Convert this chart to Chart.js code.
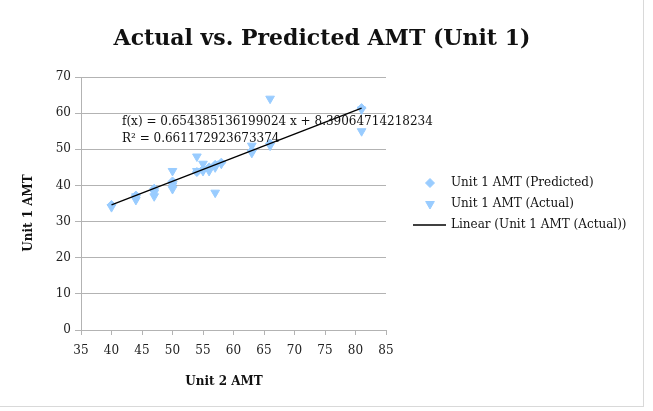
<!DOCTYPE html>
<html>
<head>
<meta charset="utf-8">
<script src="https://cdn.jsdelivr.net/npm/chart.js@4"></script>
<style>
    body { margin: 0; background: #fff; }
    #frame {
        width: 643px;
        height: 406px;
        border-right: 1px solid #d9d9d9;
        border-bottom: 1px solid #d9d9d9;
    }
</style>
</head>
<body>
<div id="frame"><canvas id="chart" width="643" height="406"></canvas></div>
<script>
const FONT = "'DejaVu Serif', serif";
const MARKER_COLOR = "#99ccff";

// Unit 2 AMT (x) vs Unit 1 AMT (y)
const actualX = [40, 44, 44, 47, 47, 50, 50, 50, 54, 54, 55, 55, 56, 57, 57, 58, 63, 63, 66, 66, 81, 81];
const actualY = [34, 36, 37, 37, 38, 44, 39, 40, 48, 44, 46, 44, 44, 38, 45, 46, 51, 49, 64, 51, 61, 55];

const predictedX = [40, 44, 47, 50, 54, 55, 56, 57, 58, 63, 66, 81];
const predictedY = [34.6, 37.2, 39.1, 41.1, 43.7, 44.4, 45.0, 45.7, 46.3, 49.6, 51.6, 61.4];

const trendX = [40, 81];
const trendY = [34.6, 61.4];

const xTicks = [35, 40, 45, 50, 55, 60, 65, 70, 75, 80, 85];
const yTicks = [0, 10, 20, 30, 40, 50, 60, 70];

const chartTitle = "Actual vs. Predicted AMT (Unit 1)";
const equationLines = [
    "f(x) = 0.654385136199024 x + 8.39064714218234",
    "R\u00B2 = 0.661172923673374",
];

function toPoints(xs, ys) {
    return xs.map((x, i) => ({ x: x, y: ys[i] }));
}

// draws the texts and legend that Chart.js can't place exactly
const extrasPlugin = {
    id: "extras",
    afterDraw(chart) {
        const ctx = chart.ctx;
        ctx.save();
        ctx.fillStyle = "#111";
        ctx.textBaseline = "middle";

        // chart title, centred on the whole frame
        ctx.font = "bold 22px " + FONT;
        ctx.textAlign = "center";
        ctx.fillText(chartTitle, 322, 39);

        // trendline equation
        ctx.font = "12px " + FONT;
        ctx.textAlign = "left";
        ctx.fillText(equationLines[0], 122, 122);
        ctx.fillText(equationLines[1], 122, 139);

        // axis titles
        ctx.font = "bold 12px " + FONT;
        ctx.textAlign = "center";
        ctx.fillText("Unit 2 AMT", 224, 382);
        ctx.save();
        ctx.translate(29, 213);
        ctx.rotate(-Math.PI / 2);
        ctx.fillText("Unit 1 AMT", 0, 0);
        ctx.restore();

        // legend
        const rows = [183, 204, 225];
        ctx.font = "12px " + FONT;
        ctx.textAlign = "left";
        chart.data.datasets.forEach((ds, i) => {
            const y = rows[i];
            if (ds.showLine) {
                ctx.strokeStyle = ds.borderColor;
                ctx.lineWidth = ds.borderWidth;
                ctx.beginPath();
                ctx.moveTo(413, y);
                ctx.lineTo(446, y);
                ctx.stroke();
            } else {
                ctx.fillStyle = MARKER_COLOR;
                ctx.strokeStyle = MARKER_COLOR;
                Chart.helpers.drawPoint(ctx, {
                    pointStyle: ds.pointStyle,
                    rotation: ds.pointRotation || 0,
                    radius: ds.pointRadius,
                    borderWidth: 1,
                }, 430, y);
            }
            ctx.fillStyle = "#111";
            ctx.fillText(ds.label, 451, y);
        });

        ctx.restore();
    },
};

const ctx = document.getElementById("chart").getContext("2d");

const chart = new Chart(ctx, {
    type: "scatter",
    data: {
        datasets: [
            {
                label: "Unit 1 AMT (Predicted)",
                data: toPoints(predictedX, predictedY),
                pointStyle: "rectRot",
                pointRadius: 4.5,
                backgroundColor: MARKER_COLOR,
                borderColor: MARKER_COLOR,
                borderWidth: 1,
                order: 2,
            },
            {
                label: "Unit 1 AMT (Actual)",
                data: toPoints(actualX, actualY),
                pointStyle: "triangle",
                pointRotation: 180,
                pointRadius: 5,
                backgroundColor: MARKER_COLOR,
                borderColor: MARKER_COLOR,
                borderWidth: 1,
                order: 1,
            },
            {
                label: "Linear (Unit 1 AMT (Actual))",
                data: toPoints(trendX, trendY),
                showLine: true,
                pointRadius: 0,
                borderColor: "#000",
                borderWidth: 1.3,
                order: 0,
            },
        ],
    },
    options: {
        responsive: false,
        animation: false,
        layout: {
            padding: { top: 77, left: 0, right: 257, bottom: 0 },
        },
        plugins: {
            legend: { display: false },
            tooltip: { enabled: false },
            title: { display: false },
        },
        scales: {
            x: {
                type: "linear",
                min: 35,
                max: 85,
                afterBuildTicks: (scale) => {
                    scale.ticks = xTicks.map((v) => ({ value: v }));
                },
                afterFit: (scale) => {
                    scale.height = 76;
                },
                border: { color: "#b3b3b3", width: 1 },
                grid: {
                    drawOnChartArea: false,
                    drawTicks: true,
                    tickLength: 5,
                    color: "#b3b3b3",
                },
                ticks: {
                    color: "#222",
                    padding: 9,
                    maxRotation: 0,
                    font: { family: FONT, size: 12 },
                },
            },
            y: {
                type: "linear",
                min: 0,
                max: 70,
                afterBuildTicks: (scale) => {
                    scale.ticks = yTicks.map((v) => ({ value: v }));
                },
                afterFit: (scale) => {
                    scale.width = 81;
                },
                border: { color: "#b3b3b3", width: 1 },
                grid: {
                    color: "#b3b3b3",
                    tickLength: 6,
                },
                ticks: {
                    color: "#222",
                    padding: 4,
                    font: { family: FONT, size: 12 },
                },
            },
        },
    },
    plugins: [extrasPlugin],
});
</script>
</body>
</html>
